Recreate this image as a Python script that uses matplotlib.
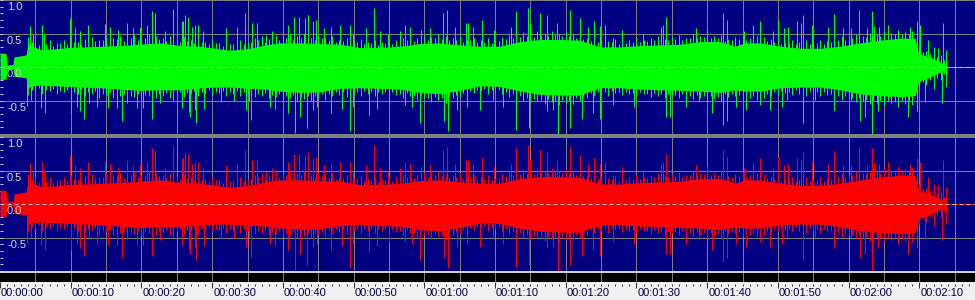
from __future__ import annotations

import matplotlib

matplotlib.use("Agg")
import matplotlib.pyplot as plt
import numpy as np
from matplotlib.patches import Rectangle

W, H = 975, 300
PX_PER_SEC = 7.072
X_MAX = W / PX_PER_SEC

NAVY = "#000080"
GRID = "#808080"
GREEN = "#00ff00"
RED = "#ff0000"

# solid body of the waveform (seconds, amplitude)
ENV_T = [0.0, 0.85, 0.99, 1.84, 1.98, 3.68, 3.96, 4.67, 5.66, 7.78, 9.47, 12.0, 14.1,
         17.0, 19.8, 22.6, 25.5, 28.3, 30.4, 32.5, 35.4, 37.5, 39.6, 42.4, 45.2, 48.1,
         50.9, 53.7, 56.6, 59.4, 62.2, 65.0, 67.9, 70.7, 73.5, 76.4, 79.2, 82.0, 84.8,
         87.7, 90.5, 93.3, 96.2, 99.0, 101.8, 103.9, 105.3, 107.5, 110.3, 113.1, 116.0,
         118.8, 121.6, 124.4, 127.3, 129.4, 129.9, 131.5, 132.9, 134.1]
ENV_TOP = [0.21, 0.20, 0.03, 0.04, 0.15, 0.18, 0.36, 0.31, 0.26, 0.27, 0.29, 0.30, 0.31,
           0.32, 0.34, 0.36, 0.32, 0.31, 0.28, 0.25, 0.28, 0.33, 0.36, 0.36, 0.35, 0.34,
           0.29, 0.29, 0.31, 0.35, 0.36, 0.33, 0.31, 0.31, 0.38, 0.41, 0.41, 0.40, 0.30,
           0.30, 0.32, 0.33, 0.34, 0.38, 0.38, 0.31, 0.36, 0.36, 0.31, 0.28, 0.28,
           0.31, 0.36, 0.40, 0.43, 0.43, 0.20, 0.15, 0.08, 0.0]
ENV_BOT = [-0.19, -0.18, -0.03, -0.03, -0.14, -0.16, -0.31, -0.28, -0.27, -0.28, -0.29, -0.30, -0.31,
           -0.33, -0.35, -0.34, -0.34, -0.31, -0.30, -0.30, -0.32, -0.33, -0.36, -0.38, -0.37, -0.32,
           -0.31, -0.32, -0.33, -0.38, -0.40, -0.35, -0.28, -0.29, -0.36, -0.41, -0.42, -0.42, -0.31,
           -0.31, -0.33, -0.34, -0.35, -0.36, -0.38, -0.34, -0.36, -0.36, -0.31, -0.30, -0.30,
           -0.34, -0.40, -0.43, -0.44, -0.43, -0.22, -0.15, -0.08, 0.0]

# ragged fringe just outside the body, one reading per second
FRINGE_T = list(range(4, 134))
FRINGE_TOP = [0.45, 0.40, 0.38, 0.40, 0.36, 0.41, 0.44, 0.38, 0.42, 0.45,
              0.40, 0.47, 0.43, 0.46, 0.42, 0.48, 0.44, 0.50, 0.46, 0.44,
              0.47, 0.42, 0.45, 0.40, 0.43, 0.38, 0.41, 0.36, 0.39, 0.35,
              0.40, 0.37, 0.43, 0.46, 0.42, 0.48, 0.45, 0.50, 0.46, 0.49,
              0.44, 0.47, 0.43, 0.46, 0.41, 0.44, 0.39, 0.42, 0.38, 0.41,
              0.37, 0.42, 0.40, 0.44, 0.47, 0.43, 0.48, 0.45, 0.50, 0.46,
              0.43, 0.46, 0.41, 0.44, 0.40, 0.43, 0.39, 0.45, 0.48, 0.46,
              0.52, 0.49, 0.54, 0.50, 0.53, 0.49, 0.52, 0.50, 0.47, 0.44,
              0.46, 0.41, 0.39, 0.42, 0.38, 0.41, 0.43, 0.40, 0.44, 0.46,
              0.42, 0.45, 0.48, 0.44, 0.49, 0.47, 0.50, 0.46, 0.48, 0.42,
              0.45, 0.48, 0.44, 0.47, 0.45, 0.42, 0.40, 0.38, 0.41, 0.37,
              0.40, 0.38, 0.41, 0.39, 0.43, 0.46, 0.44, 0.49, 0.46, 0.51,
              0.49, 0.53, 0.51, 0.55, 0.52, 0.54, 0.30, 0.24, 0.30, 0.18]
FRINGE_BOT = [-0.42, -0.38, -0.40, -0.36, -0.41, -0.38, -0.43, -0.40, -0.44, -0.41,
              -0.46, -0.42, -0.47, -0.44, -0.49, -0.45, -0.48, -0.44, -0.47, -0.43,
              -0.46, -0.42, -0.45, -0.41, -0.43, -0.40, -0.42, -0.39, -0.43, -0.40,
              -0.44, -0.41, -0.45, -0.43, -0.47, -0.45, -0.49, -0.46, -0.51, -0.48,
              -0.50, -0.47, -0.49, -0.44, -0.42, -0.45, -0.41, -0.44, -0.40, -0.43,
              -0.41, -0.44, -0.42, -0.46, -0.44, -0.49, -0.47, -0.52, -0.49, -0.53,
              -0.47, -0.45, -0.41, -0.39, -0.36, -0.40, -0.37, -0.41, -0.45, -0.48,
              -0.51, -0.54, -0.51, -0.55, -0.52, -0.56, -0.53, -0.55, -0.50, -0.46,
              -0.43, -0.40, -0.43, -0.39, -0.42, -0.40, -0.44, -0.41, -0.45, -0.43,
              -0.46, -0.44, -0.47, -0.45, -0.48, -0.46, -0.50, -0.48, -0.51, -0.45,
              -0.44, -0.48, -0.46, -0.49, -0.47, -0.44, -0.42, -0.39, -0.42, -0.40,
              -0.43, -0.40, -0.44, -0.42, -0.46, -0.49, -0.47, -0.52, -0.50, -0.55,
              -0.53, -0.57, -0.54, -0.58, -0.55, -0.57, -0.32, -0.27, -0.33, -0.20]

# shorter fringe lines in between, at the half seconds
HALF_T = [s + 0.5 for s in range(4, 134)]
HALF_TOP = [0.37, 0.33, 0.35, 0.32, 0.36, 0.34, 0.38, 0.35, 0.37, 0.39,
            0.41, 0.38, 0.42, 0.39, 0.43, 0.40, 0.44, 0.41, 0.42, 0.39,
            0.40, 0.37, 0.39, 0.36, 0.38, 0.34, 0.36, 0.32, 0.34, 0.31,
            0.35, 0.38, 0.40, 0.37, 0.42, 0.40, 0.43, 0.41, 0.44, 0.42,
            0.41, 0.43, 0.40, 0.38, 0.39, 0.36, 0.37, 0.34, 0.36, 0.33,
            0.36, 0.35, 0.38, 0.41, 0.39, 0.42, 0.40, 0.44, 0.42, 0.40,
            0.41, 0.38, 0.40, 0.37, 0.38, 0.36, 0.39, 0.42, 0.44, 0.45,
            0.47, 0.45, 0.48, 0.46, 0.49, 0.46, 0.47, 0.44, 0.42, 0.39,
            0.37, 0.35, 0.37, 0.34, 0.36, 0.38, 0.37, 0.39, 0.40, 0.38,
            0.40, 0.42, 0.40, 0.43, 0.44, 0.45, 0.43, 0.44, 0.39, 0.40,
            0.42, 0.40, 0.43, 0.41, 0.39, 0.37, 0.35, 0.36, 0.34, 0.35,
            0.34, 0.36, 0.35, 0.38, 0.40, 0.41, 0.43, 0.42, 0.45, 0.46,
            0.47, 0.48, 0.49, 0.50, 0.49, 0.35, 0.22, 0.20, 0.15, 0.10]
HALF_BOT = [-0.35, -0.32, -0.34, -0.33, -0.36, -0.34, -0.37, -0.35, -0.38, -0.36,
            -0.40, -0.38, -0.41, -0.40, -0.43, -0.41, -0.42, -0.40, -0.41, -0.39,
            -0.40, -0.38, -0.39, -0.36, -0.37, -0.35, -0.37, -0.36, -0.38, -0.36,
            -0.38, -0.37, -0.40, -0.39, -0.42, -0.41, -0.44, -0.42, -0.45, -0.43,
            -0.43, -0.41, -0.40, -0.37, -0.38, -0.36, -0.38, -0.36, -0.38, -0.37,
            -0.38, -0.37, -0.40, -0.39, -0.43, -0.42, -0.46, -0.45, -0.47, -0.44,
            -0.42, -0.39, -0.36, -0.34, -0.33, -0.35, -0.34, -0.37, -0.41, -0.44,
            -0.47, -0.48, -0.49, -0.48, -0.50, -0.49, -0.50, -0.47, -0.43, -0.39,
            -0.37, -0.38, -0.36, -0.38, -0.37, -0.39, -0.38, -0.40, -0.39, -0.41,
            -0.40, -0.42, -0.41, -0.43, -0.42, -0.44, -0.43, -0.45, -0.41, -0.40,
            -0.42, -0.41, -0.43, -0.42, -0.40, -0.38, -0.36, -0.37, -0.35, -0.36,
            -0.36, -0.38, -0.37, -0.40, -0.43, -0.44, -0.46, -0.47, -0.49, -0.50,
            -0.50, -0.51, -0.52, -0.51, -0.50, -0.36, -0.23, -0.20, -0.16, -0.10]

# single peaks that stick out well past the body
UP_T = [4.3, 4.7, 5.9, 6.2, 9.9, 10.6, 11.3, 12.4, 14.9, 15.6, 16.7, 18.0, 18.8, 19.8, 20.8,
        21.5, 21.9, 23.3, 24.5, 25.7, 25.9, 26.2, 26.6, 27.2, 27.6, 28.0, 28.7, 32.0, 33.5,
        34.7, 35.6, 36.4, 37.6, 38.5, 40.7, 41.6, 42.3, 43.1, 43.6, 44.3, 44.7, 45.8, 46.8,
        48.1, 49.5, 49.9, 51.8, 52.9, 53.7, 54.9, 56.6, 57.3, 58.0, 59.5, 60.8, 62.7, 63.2,
        64.4, 65.9, 66.2, 66.9, 68.2, 69.9, 72.3, 73.0, 74.7, 75.0, 76.4, 77.4, 78.8, 80.6,
        82.0, 83.2, 84.0, 84.9, 85.6, 86.7, 88.0, 90.9, 93.4, 93.8, 94.2, 98.4, 100.0, 102.3,
        102.8, 105.2, 106.5, 107.5, 109.3, 110.0, 110.9, 111.4, 112.7, 113.3, 113.5, 114.8,
        117.1, 117.9, 119.2, 120.4, 121.5, 122.6, 123.3, 123.6, 124.3, 125.6, 128.7, 129.7,
        130.1, 131.2, 132.7, 133.4, 133.7]
UP_V = [0.61, 0.50, 0.63, 0.50, 0.73, 0.58, 0.53, 0.63, 0.64, 0.60, 0.55, 0.66, 0.58, 0.60, 0.63,
        0.83, 0.80, 0.53, 0.86, 0.68, 0.69, 0.78, 0.75, 0.60, 0.63, 0.63, 0.53, 0.58, 0.60,
        0.80, 0.66, 0.66, 0.48, 0.53, 0.63, 0.75, 0.75, 0.73, 0.78, 0.68, 0.70, 0.58, 0.60,
        0.63, 0.63, 0.50, 0.58, 0.88, 0.53, 0.50, 0.53, 0.63, 0.60, 0.55, 0.58, 0.80, 0.85,
        0.60, 0.65, 0.65, 0.60, 0.70, 0.55, 0.60, 0.83, 0.88, 0.65, 0.81, 0.78, 0.65, 0.85,
        0.73, 0.60, 0.69, 0.61, 0.63, 0.44, 0.55, 0.50, 0.60, 0.63, 0.75, 0.58, 0.56, 0.81,
        0.70, 0.53, 0.63, 0.68, 0.53, 0.70, 0.58, 0.60, 0.68, 0.65, 0.78, 0.63,
        0.60, 0.79, 0.58, 0.58, 0.85, 0.58, 0.83, 0.61, 0.60, 0.63, 0.60, 0.69,
        0.63, 0.40, 0.28, 0.65, 0.25]
DOWN_T = [3.8, 4.4, 5.8, 6.4, 10.0, 10.9, 11.3, 11.9, 12.6, 13.7, 15.3, 16.5, 17.3, 18.0, 19.4,
          20.2, 21.5, 22.6, 24.5, 25.7, 26.7, 26.9, 27.6, 27.7, 28.9, 31.3, 33.1, 34.8, 35.2,
          35.5, 38.2, 38.9, 40.7, 41.7, 42.4, 43.4, 44.3, 44.8, 46.8, 48.4, 49.5, 49.9, 52.2,
          53.3, 55.0, 57.3, 58.3, 59.4, 62.8, 63.4, 64.6, 66.1, 67.9, 69.7, 71.1, 73.0, 74.8,
          77.4, 78.2, 78.9, 80.6, 82.3, 83.9, 84.9, 86.7, 89.7, 94.2, 94.8, 97.0, 98.9, 100.7,
          102.3, 102.8, 104.1, 105.5, 107.5, 108.9, 110.6, 111.3, 113.5, 115.3, 117.9, 120.4,
          121.6, 122.3, 123.3, 124.2, 127.0, 128.4, 129.7, 130.8, 132.1, 133.2, 133.7]
DOWN_V = [-0.58, -0.49, -0.61, -0.69, -0.68, -0.59, -0.66, -0.77, -0.54, -0.59, -0.61, -0.61, -0.81, -0.54, -0.61,
          -0.61, -0.78, -0.54, -0.49, -0.61, -0.67, -0.74, -0.64, -0.84, -0.62, -0.52, -0.50, -0.64, -0.50,
          -0.79, -0.59, -0.62, -0.68, -0.99, -0.74, -0.91, -0.64, -0.59, -0.69, -0.62, -0.96, -0.59, -0.71,
          -0.62, -0.57, -0.57, -0.59, -0.84, -0.81, -0.96, -0.64, -0.59, -0.64, -0.49, -0.59, -0.94, -0.91,
          -0.66, -0.64, -1.00, -0.91, -0.77, -0.69, -0.77, -0.57, -0.59, -0.74, -0.74, -0.59, -0.52, -0.69,
          -0.87, -0.81, -0.59, -0.64, -0.57, -0.64, -0.59, -0.49, -0.84, -0.49, -0.66, -0.49,
          -0.81, -0.74, -1.00, -0.66, -0.59, -0.74, -0.66, -0.52, -0.25, -0.54, -0.30]

Y_LABEL_VALUES = [1.0, 0.5, 0.0, -0.5]
Y_LABELS = ["1.0", "0.5", "0.0", "-0.5"]
TIME_TICKS = [0, 10, 20, 30, 40, 50, 60, 70, 80, 90, 100, 110, 120, 130]
TIME_LABELS = ["00:00:00", "00:00:10", "00:00:20", "00:00:30", "00:00:40", "00:00:50", "00:01:00",
               "00:01:10", "00:01:20", "00:01:30", "00:01:40", "00:01:50", "00:02:00", "00:02:10"]

plt.rcParams["font.family"] = ["Liberation Sans", "DejaVu Sans"]
LW = 72 / 100  # one pixel in points


def _px_axes(fig: plt.Figure, top: float, bottom: float) -> plt.Axes:
    ax = fig.add_axes([0, 1 - bottom / H, 1, (bottom - top) / H])
    for s in ax.spines.values():
        s.set_visible(False)
    ax.set_xlim(0, X_MAX)
    return ax


def _draw_channel(ax: plt.Axes, color: str) -> None:
    ax.set_facecolor(NAVY)
    ax.set_ylim(-1, 1)
    for s in np.arange(5, X_MAX, 5):
        ax.axvline(s, color=GRID, lw=LW, zorder=1)
    for v in (1.0, 0.5, -0.5):
        ax.axhline(v, color=GRID, lw=LW, zorder=1, clip_on=False)
    ax.fill_between(ENV_T, ENV_BOT, ENV_TOP, color=color, lw=0, zorder=2)
    # one pixel wide, snapped onto the pixel grid so peaks keep full colour
    kw = dict(color=color, lw=LW, zorder=2, antialiased=True, snap=True)
    ax.vlines(HALF_T, HALF_BOT, HALF_TOP, **kw)
    ax.vlines(FRINGE_T, FRINGE_BOT, FRINGE_TOP, **kw)
    ax.vlines(UP_T, 0, UP_V, **kw)
    ax.vlines(DOWN_T, DOWN_V, 0, **kw)
    ax.hlines(0, ENV_T[-1], X_MAX, color=color, lw=LW, zorder=2)
    ax.axhline(0, color="#c8c8c8", lw=LW, ls=(0, (4, 3)), zorder=3)
    for v, lab in zip(Y_LABEL_VALUES, Y_LABELS):
        ax.text(7 / PX_PER_SEC, v - 0.035, lab, color="#d8d8d8", fontsize=8,
                ha="left", va="top", zorder=4)
    ax.set_xticks([])
    ax.set_yticks(np.arange(-1, 1.01, 0.1))
    ax.tick_params(axis="y", direction="in", length=2, width=LW, color="#d0d0d0",
                   labelleft=False, pad=0)


fig = plt.figure(figsize=(W / 100, H / 100), dpi=100)
fig.patch.set_facecolor("#f0f0f0")
fig.add_artist(Rectangle((0, 1 - 137 / H), 1, 3 / H, transform=fig.transFigure, color=GRID, lw=0))
fig.add_artist(Rectangle((0, 1 - 273 / H), 1, 2 / H, transform=fig.transFigure, color="#d0d0d0", lw=0))

top = _px_axes(fig, 0, 134)
_draw_channel(top, GREEN)
bottom = _px_axes(fig, 137, 271)
_draw_channel(bottom, RED)

strip = _px_axes(fig, 273, 282)
strip.set_facecolor("black")
strip.set_ylim(0, 1)
for s in np.arange(5, X_MAX, 5):
    strip.axvline(s, color=GRID, lw=LW)
strip.set_xticks([])
strip.set_yticks([])

ruler = _px_axes(fig, 282, 300)
ruler.set_facecolor("#f0f0f0")
ruler.set_ylim(18, 0)
ruler.vlines(np.arange(1, X_MAX, 1), 2, 4, color="#303030", lw=LW)
ruler.vlines(TIME_TICKS, 0, 6, color="#303030", lw=LW)
for s, lab in zip(TIME_TICKS, TIME_LABELS):
    ruler.text(s + 1 / PX_PER_SEC, 6.2, lab, color="#000040", fontsize=8, ha="left", va="top")
ruler.set_xticks([])
ruler.set_yticks([])

fig.savefig("out.png", dpi=100, facecolor=fig.get_facecolor())
